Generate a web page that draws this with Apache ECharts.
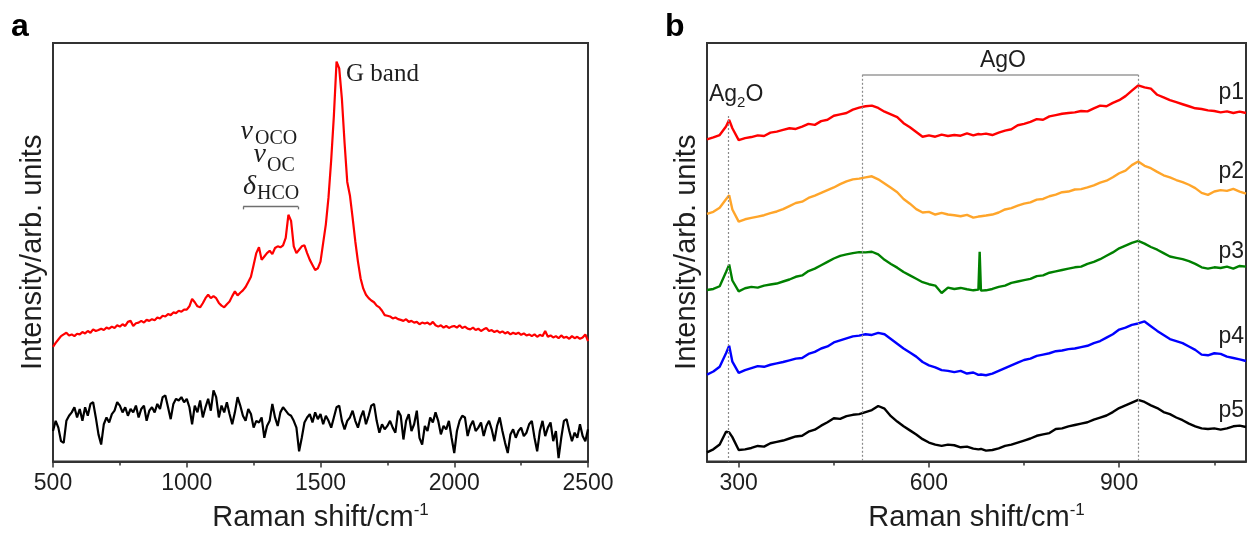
<!DOCTYPE html>
<html><head><meta charset="utf-8">
<script src="https://cdn.jsdelivr.net/npm/echarts@6/dist/echarts.min.js"></script>
<style>html,body{margin:0;padding:0;background:#fff}#c{width:1247px;height:537px}</style>
</head><body><div id="c"></div>
<script>
// ---------- Panel a data (Raman shift in cm-1, intensity in arb. units) ----------
const xA = [
 500,510,520,530,540,550,560,570,580,590,
 600,610,620,630,640,650,660,670,680,690,
 700,710,720,730,740,750,760,770,780,790,
 800,810,820,830,840,850,860,870,880,890,
 900,910,920,930,940,950,960,970,980,990,
 1000,1010,1020,1030,1040,1050,1060,1070,1080,1090,
 1100,1110,1120,1130,1140,1150,1160,1170,1180,1190,
 1200,1210,1220,1230,1240,1250,1260,1270,1280,1290,
 1300,1310,1320,1330,1340,1350,1360,1370,1380,1390,
 1400,1410,1420,1430,1440,1450,1460,1470,1480,1490,
 1500,1510,1520,1530,1540,1550,1560,1570,1580,1590,
 1600,1610,1620,1630,1640,1650,1660,1670,1680,1690,
 1700,1710,1720,1730,1740,1750,1760,1770,1780,1790,
 1800,1810,1820,1830,1840,1850,1860,1870,1880,1890,
 1900,1910,1920,1930,1940,1950,1960,1970,1980,1990,
 2000,2010,2020,2030,2040,2050,2060,2070,2080,2090,
 2100,2110,2120,2130,2140,2150,2160,2170,2180,2190,
 2200,2210,2220,2230,2240,2250,2260,2270,2280,2290,
 2300,2310,2320,2330,2340,2350,2360,2370,2380,2390,
 2400,2410,2420,2430,2440,2450,2460,2470,2480,2490,
 2500];
const redA = [
 33.8,35.0,36.0,37.0,37.5,38.0,37.2,37.5,37.0,37.7,
 37.5,38.2,37.8,38.5,38.0,39.0,38.5,38.8,39.2,38.8,
 39.5,39.2,39.8,39.4,40.2,39.8,40.5,40.0,41.2,41.5,
 40.0,40.8,41.0,41.5,41.0,41.8,41.5,42.0,41.7,42.5,
 42.2,43.0,42.8,43.5,43.2,44.0,43.8,44.5,44.2,44.8,
 44.8,45.8,48.0,47.0,45.8,45.5,46.7,48.2,49.2,48.2,
 48.8,48.2,46.8,46.0,45.5,46.4,47.2,48.8,50.2,49.0,
 49.8,50.5,51.5,53.0,54.5,58.0,61.5,63.2,59.5,60.5,
 61.5,62.2,61.2,63.0,63.5,63.2,63.8,66.0,72.8,71.0,
 63.5,61.5,62.5,63.5,63.8,61.5,59.5,58.0,56.5,57.0,
 59.0,64.5,70.0,78.0,89.0,102.0,118.0,116.0,107.0,94.0,
 82.5,78.5,72.0,65.0,59.0,54.0,51.0,49.2,48.2,47.5,
 47.0,46.0,45.5,44.5,43.2,43.0,42.8,42.2,42.5,42.0,
 41.8,41.5,42.0,41.2,41.5,41.0,41.2,40.5,41.0,40.7,
 41.0,40.4,41.2,40.2,39.8,40.2,39.5,40.0,39.4,39.8,
 40.0,39.5,40.2,39.4,39.8,39.2,39.0,39.5,38.8,39.2,
 38.5,39.0,39.4,38.5,38.8,38.2,38.6,38.0,38.4,37.8,
 38.2,37.5,38.0,37.6,38.0,37.4,37.8,37.2,37.5,37.0,
 37.5,36.8,37.4,37.0,38.5,36.8,37.2,36.6,37.0,36.4,
 37.2,36.5,36.8,36.2,37.0,36.4,36.8,36.2,36.6,37.5,
 35.5];
const blackA = [
 9.0,12.0,10.0,6.0,5.5,12.0,13.5,14.5,16.0,13.0,
 15.5,12.0,16.0,13.5,17.0,17.5,13.0,8.0,5.0,11.0,
 13.0,11.5,14.0,15.0,17.5,16.5,14.5,16.0,13.5,15.5,
 14.5,16.5,13.0,15.5,16.5,12.0,15.0,16.0,14.5,17.0,
 15.5,19.0,19.5,16.0,12.5,17.0,18.5,18.0,19.0,17.5,
 18.5,16.0,11.0,16.5,14.5,18.0,13.0,16.0,18.5,15.0,
 21.0,19.0,13.0,16.5,14.5,17.5,14.0,11.0,14.5,19.0,
 16.5,13.5,12.0,15.5,14.0,10.0,12.0,11.5,13.0,7.0,
 10.5,12.0,17.0,13.0,10.5,14.5,16.0,15.0,14.0,13.5,
 12.0,10.0,3.0,7.0,11.5,13.0,14.0,11.5,14.5,12.5,
 14.0,11.0,13.5,12.0,10.0,13.0,16.0,16.5,12.0,9.5,
 12.0,13.0,15.0,12.0,10.0,13.0,15.0,11.0,13.5,16.5,
 17.0,12.0,8.5,11.0,9.5,10.5,12.0,10.0,8.5,15.0,
 13.5,6.5,12.0,14.0,9.0,11.0,15.0,7.0,5.0,10.5,
 9.0,13.0,11.5,14.5,12.0,8.0,10.5,9.5,12.0,7.0,
 2.5,9.0,12.0,13.5,13.0,7.5,10.5,12.0,9.0,10.0,
 11.5,7.5,10.5,12.0,9.5,6.0,10.5,13.0,9.0,5.5,
 2.5,8.0,9.5,7.0,9.0,10.0,7.5,8.5,11.0,12.0,
 7.0,3.0,9.0,12.0,7.5,10.0,11.5,6.0,9.0,1.0,
 7.0,12.0,12.5,9.0,6.0,8.5,7.0,11.0,7.5,6.0,
 9.5];

// ---------- Panel b data ----------
const xB = [
 250,260,270,280,285,290,
 300,310,320,330,340,350,360,370,380,390,
 400,410,420,430,440,450,460,470,480,490,
 500,510,520,530,540,550,560,570,580,590,
 600,610,620,630,640,650,660,670,678,680,682,690,
 700,710,720,730,740,750,760,770,780,790,
 800,810,820,830,840,850,860,870,880,890,
 900,910,920,930,940,950,960,970,980,990,
 1000,1010,1020,1030,1040,1050,1060,1070,1080,1090,
 1100];
const p1 = [
 95.2,95.8,96.5,99.0,101.0,98.5,
 95.0,95.6,95.9,96.4,96.2,97.2,97.5,98.0,98.5,98.3,
 99.0,99.8,99.5,100.6,101.0,102.2,102.6,103.0,104.0,104.6,
 105.0,105.2,104.5,103.4,102.6,101.8,100.0,98.8,97.4,96.0,
 96.4,96.0,96.6,96.2,96.5,96.3,97.0,96.4,96.8,96.5,96.7,96.9,
 96.5,97.2,97.8,98.2,99.4,99.8,100.4,101.2,101.0,102.0,
 102.4,102.8,103.0,103.2,103.6,103.5,104.4,105.2,105.0,106.0,
 106.8,108.0,109.6,111.2,110.6,110.2,108.4,107.6,106.8,106.2,
 105.6,105.0,104.4,104.2,103.8,103.6,103.2,103.5,103.0,103.4,
 103.0];
const p2 = [
 73.2,73.8,75.0,77.5,78.7,74.5,
 70.9,71.6,72.0,72.4,72.8,73.4,73.9,74.6,75.5,76.4,
 76.8,77.9,78.6,79.4,80.2,81.0,82.0,82.8,83.4,83.6,
 84.0,84.3,83.4,82.2,80.9,79.6,77.6,76.2,74.6,73.6,
 73.8,73.0,73.5,73.0,72.8,72.5,72.9,72.1,72.4,72.2,72.5,72.7,
 73.0,73.6,74.5,74.9,75.6,76.2,76.6,77.4,77.6,78.4,
 78.9,79.6,79.8,80.4,80.5,81.0,81.6,82.4,83.0,84.0,
 85.2,86.0,87.6,88.7,87.4,86.7,85.6,84.6,84.0,83.2,
 82.6,81.8,80.8,79.4,78.8,79.8,80.2,80.0,80.6,79.8,
 79.2];
const p3 = [
 50.7,51.0,51.8,56.0,58.2,53.5,
 50.3,51.2,51.6,51.4,52.0,52.3,52.6,53.2,53.8,54.6,
 55.0,56.3,57.0,58.0,59.0,60.0,60.8,61.2,61.6,61.9,
 61.8,62.0,61.2,59.6,58.4,57.3,56.0,55.0,54.0,53.0,
 52.4,52.0,49.8,51.4,51.0,51.3,50.9,50.6,50.8,62.0,50.5,50.6,
 51.0,51.6,52.0,52.8,53.2,53.6,54.0,54.8,55.0,55.8,
 56.2,56.6,57.0,57.4,57.6,58.4,59.0,59.8,60.8,61.8,
 63.0,63.8,64.6,65.2,64.4,63.4,62.6,61.6,60.6,60.2,
 59.8,59.2,58.4,57.4,57.0,57.4,57.2,57.6,57.0,57.8,
 57.6];
const p4 = [
 25.7,26.6,28.0,32.0,34.2,29.5,
 26.2,27.0,27.6,28.2,28.0,28.6,29.0,29.4,29.9,30.4,
 30.6,31.8,32.4,33.4,34.0,35.2,35.8,36.4,37.0,37.2,
 37.6,37.4,38.0,37.6,36.2,34.8,33.4,32.2,31.0,29.4,
 28.4,27.8,27.0,26.8,26.4,26.8,26.0,26.3,25.6,25.9,25.7,25.5,
 26.0,26.8,27.6,28.4,29.2,30.0,30.4,31.2,31.6,32.0,
 32.6,32.8,33.2,33.4,33.8,34.2,35.0,35.6,36.6,37.6,
 39.0,39.6,40.4,40.8,41.4,40.0,38.6,37.4,36.2,35.6,
 35.0,34.0,33.0,31.6,31.4,32.0,31.8,31.0,30.6,30.2,
 29.7];
const p5 = [
 2.7,3.6,5.0,8.8,8.6,7.2,
 3.4,3.6,4.0,4.6,4.4,5.4,5.8,6.2,6.8,7.4,
 7.6,8.8,9.4,10.6,11.6,12.8,12.6,13.4,13.8,14.0,
 14.6,15.2,16.4,15.6,13.4,11.8,10.4,9.2,8.0,6.6,
 5.6,5.0,4.6,5.0,4.8,4.2,4.4,3.8,3.6,3.4,3.7,3.2,
 3.4,3.9,4.6,5.0,5.6,6.2,6.8,7.6,8.0,8.4,
 9.6,9.8,10.4,10.8,11.2,11.6,12.4,13.0,13.6,14.6,
 15.8,16.6,17.4,18.2,17.6,16.6,15.8,14.6,14.0,13.0,
 12.2,11.2,10.4,9.8,9.6,9.8,9.4,9.8,10.4,10.6,
 10.2];

const seriesNamesB = ['p1','p2','p3','p4','p5'];
const xTicksA = [500,1000,1500,2000,2500];
const xTicksB = [300,600,900];
const xMinorB = [450,750,1050];
// annotation anchors (data coordinates)
const ag2oPeak = 283, ag2oTop = 102.1;
const agoLeft = 495, agoRight = 930, agoY = 114.3;
const hcoLeft = 1211, hcoRight = 1417, hcoY = 75.2, hcoTickY = 74.4;

const zip = (x, y) => x.map((v, i) => [v, y[i]]);
const SANS = 'Liberation Sans';
const SERIF = 'Liberation Serif';
const INK = '#1e1e1e';
const FRAME = '#333333';

const colorsB = ['#ff0000', '#ffa52a', '#008000', '#0000ff', '#000000'];

function txt(x, y, text, size, o) {
  o = o || {};
  return { type: 'text', silent: true, z: 100, style: {
    x: x, y: y, text: text, fontSize: size, fontFamily: o.family || SANS,
    fontWeight: o.weight || 'normal', fontStyle: o.style || 'normal',
    fill: o.fill || INK, align: o.align || 'left', verticalAlign: 'middle' } };
}

const xName = '{a|Raman shift/cm}{s|-1}';
const xNameStyle = { rich: {
  a: { fontSize: 29, fontFamily: SANS, color: INK, lineHeight: 32 },
  s: { fontSize: 17, fontFamily: SANS, color: INK, lineHeight: 17, verticalAlign: 'top' } } };
const yNameStyle = { fontSize: 29, fontFamily: SANS, color: INK };

function xAxisBase(gi) {
  return {
    gridIndex: gi, type: 'value',
    axisLine: { show: true, onZero: false, lineStyle: { color: FRAME, width: 2 } },
    axisTick: { show: true, inside: false, length: 6, lineStyle: { color: FRAME, width: 1.5 } },
    axisLabel: { fontSize: 23, fontFamily: SANS, color: INK, margin: 11, formatter: v => String(v) },
    splitLine: { show: false },
    name: xName, nameLocation: 'middle', nameGap: 40, nameTextStyle: xNameStyle
  };
}

const axA = xAxisBase(0);
Object.assign(axA, { min: 500, max: 2500, interval: 500,
  minorTick: { show: true, splitNumber: 2, length: 4, lineStyle: { color: FRAME, width: 1.5 } },
  minorSplitLine: { show: false } });
axA.axisLabel.customValues = xTicksA;
axA.axisTick.customValues = xTicksA;

const axB = xAxisBase(1);
Object.assign(axB, { min: 250, max: 1100 });
axB.axisLabel.customValues = xTicksB;
axB.axisTick.customValues = xTicksB;

const axBminor = { gridIndex: 1, type: 'value', min: 250, max: 1100, position: 'bottom',
  axisLine: { show: false }, axisLabel: { show: false }, splitLine: { show: false },
  axisTick: { show: true, inside: false, length: 4, customValues: xMinorB, lineStyle: { color: FRAME, width: 1.5 } } };

function yAxis(gi, max) {
  return { gridIndex: gi, type: 'value', min: 0, max: max,
    axisLine: { show: false }, axisTick: { show: false }, axisLabel: { show: false }, splitLine: { show: false },
    name: 'Intensity/arb. units', nameLocation: 'middle', nameRotate: 90, nameGap: 6, nameTextStyle: yNameStyle };
}

const lineS = (name, data, color, xi, yi, w) => ({
  name: name, type: 'line', xAxisIndex: xi, yAxisIndex: yi, data: data, showSymbol: false, symbol: 'none',
  lineStyle: { color: color, width: w || 2 }, itemStyle: { color: color }, z: 3, silent: true, animation: false
});

const dotted = { color: '#8a8a8a', type: [2, 2], width: 1.2 };
const series = [
  { type: 'line', xAxisIndex: 0, yAxisIndex: 0, data: [], z: 2, silent: true,
    markLine: { silent: true, symbol: ['none', 'none'], animation: false, label: { show: false },
      lineStyle: { color: '#6f6f6f', type: 'solid', width: 1.3 },
      data: [
        [{ coord: [hcoLeft, hcoY] }, { coord: [hcoRight, hcoY] }],
        [{ coord: [hcoLeft, hcoY] }, { coord: [hcoLeft, hcoTickY] }],
        [{ coord: [hcoRight, hcoY] }, { coord: [hcoRight, hcoTickY] }]
      ] } },
  lineS('background', zip(xA, blackA), '#000000', 0, 0, 2.2),
  lineS('sample', zip(xA, redA), '#ff0000', 0, 0, 2.2),
  { type: 'line', xAxisIndex: 1, yAxisIndex: 1, data: [], z: 2, silent: true,
    markLine: { silent: true, symbol: ['none', 'none'], animation: false, label: { show: false },
      lineStyle: dotted,
      data: [
        [{ coord: [ag2oPeak, ag2oTop] }, { coord: [ag2oPeak, 0] }],
        [{ coord: [agoLeft, agoY] }, { coord: [agoLeft, 0] }],
        [{ coord: [agoRight, agoY] }, { coord: [agoRight, 0] }],
        [{ coord: [agoLeft, agoY], lineStyle: { color: '#9a9a9a', type: 'solid', width: 1.6 } }, { coord: [agoRight, agoY] }]
      ] } }
];
[p1, p2, p3, p4, p5].forEach((d, i) => series.push(lineS(seriesNamesB[i], zip(xB, d), colorsB[i], 1, 1, 2.4)));

const graphic = [
  txt(11, 27, 'a', 32, { weight: 'bold', fill: '#000' }),
  txt(665, 27, 'b', 32, { weight: 'bold', fill: '#000' }),
  txt(346, 74.5, 'G band', 25, { family: SERIF }),
  txt(253, 131.6, 'ν', 28, { family: SERIF, style: 'italic', align: 'right' }),
  txt(255, 139, 'OCO', 20, { family: SERIF }),
  txt(266, 154.6, 'ν', 28, { family: SERIF, style: 'italic', align: 'right' }),
  txt(267, 165.5, 'OC', 20, { family: SERIF }),
  txt(256, 186.6, 'δ', 28, { family: SERIF, style: 'italic', align: 'right' }),
  txt(257, 194, 'HCO', 20, { family: SERIF }),
  txt(709, 95, 'Ag', 23),
  txt(737, 103, '2', 15),
  txt(745.5, 95, 'O', 23),
  txt(1003, 61, 'AgO', 23, { align: 'center' }),
  txt(1244, 92.6, 'p1', 23, { align: 'right' }),
  txt(1244, 171.2, 'p2', 23, { align: 'right' }),
  txt(1244, 251.6, 'p3', 23, { align: 'right' }),
  txt(1244, 337, 'p4', 23, { align: 'right' }),
  txt(1244, 410.6, 'p5', 23, { align: 'right' })
];

const chart = echarts.init(document.getElementById('c'), null, { renderer: 'canvas' });
chart.setOption({
  animation: false,
  backgroundColor: '#ffffff',
  grid: [
    { left: 53, right: 659, top: 43, bottom: 71, show: true, borderColor: FRAME, borderWidth: 2, backgroundColor: 'transparent' },
    { left: 707, right: 1, top: 43, bottom: 71, show: true, borderColor: FRAME, borderWidth: 2, backgroundColor: 'transparent' }
  ],
  xAxis: [axA, axB, axBminor],
  yAxis: [yAxis(0, 123.5), yAxis(1, 123.7)],
  series: series,
  graphic: graphic
});
</script></body></html>
